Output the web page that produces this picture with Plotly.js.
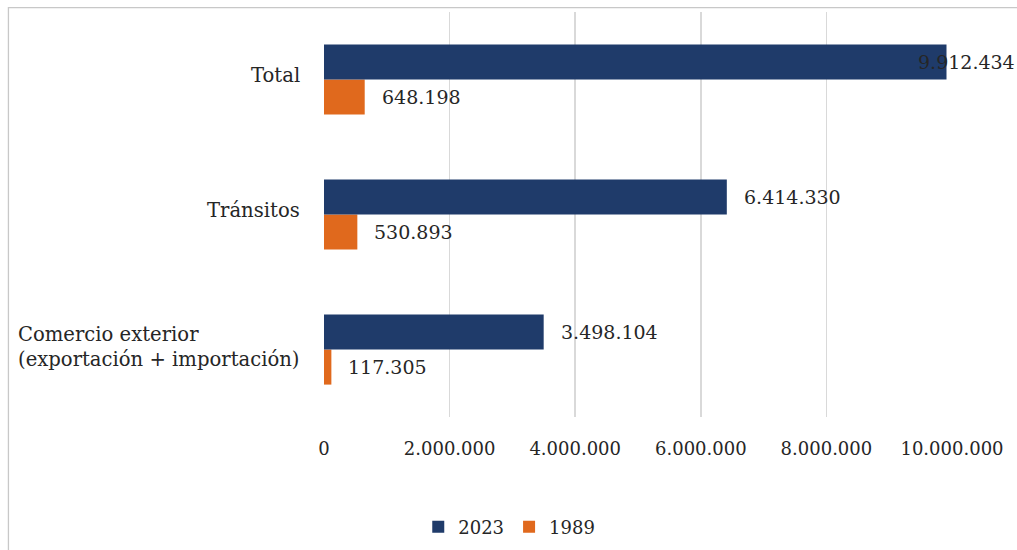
<!DOCTYPE html>
<html>
<head>
<meta charset="utf-8">
<script src="https://cdn.plot.ly/plotly-3.0.1.min.js"></script>
<style>html,body{margin:0;padding:0;background:#fff;}#chart{width:1017px;height:550px;}</style>
</head>
<body>
<div id="chart"></div>
<script>
// Categories listed bottom-to-top
const categories = ["Comercio exterior", "Tránsitos", "Total"];
const categoryLabels = ["Comercio exterior<br>(exportación + importación)", "Tránsitos", "Total"];
const values2023 = [3498104, 6414330, 9912434];
const values1989 = [117305, 530893, 648198];
const labels2023 = ["3.498.104", "6.414.330", "9.912.434"];
const labels1989 = ["117.305", "530.893", "648.198"];
const tickVals = [0, 2000000, 4000000, 6000000, 8000000, 10000000];
const tickText = ["0", "2.000.000", "4.000.000", "6.000.000", "8.000.000", "10.000.000"];

const FONT = "DejaVu Serif, serif";
const TXT = "#262626";
const NAVY = "#1F3B6A";
const ORANGE = "#E0691D";

const traces = [
  {type: "bar", orientation: "h", name: "1989", y: categories, x: values1989,
   marker: {color: ORANGE}, hoverinfo: "skip"},
  {type: "bar", orientation: "h", name: "2023", y: categories, x: values2023,
   marker: {color: NAVY}, hoverinfo: "skip"}
];

const annotations = [];
categories.forEach((c, i) => {
  annotations.push({x: values2023[i], y: c, xref: "x", yref: "y", text: labels2023[i],
    showarrow: false, xanchor: "left", xshift: (i === 2 ? -31 : 15), yshift: 17.5,
    font: {family: FONT, size: 19, color: TXT}});
  annotations.push({x: values1989[i], y: c, xref: "x", yref: "y", text: labels1989[i],
    showarrow: false, xanchor: "left", xshift: 15, yshift: -17.5,
    font: {family: FONT, size: 19, color: TXT}});
  annotations.push({x: 0, y: c, xref: "paper", yref: "y", text: categoryLabels[i],
    showarrow: false, xanchor: "right", align: "left", xshift: -22,
    yshift: (i === 0 ? 3 : 4),
    font: {family: FONT, size: 19.6, color: TXT}});
});

const layout = {
  width: 1017, height: 550,
  margin: {l: 324, r: 65, t: 12, b: 133, autoexpand: false},
  paper_bgcolor: "#fff", plot_bgcolor: "#fff",
  barmode: "group", bargap: 0.48, bargroupgap: 0,
  showlegend: true,
  legend: {orientation: "h", traceorder: "reversed", x: 0.295, xanchor: "center",
    y: -0.272, yanchor: "middle", font: {family: FONT, size: 18, color: TXT},
    itemwidth: 30},
  xaxis: {range: [0, 10000000], tickvals: tickVals, ticktext: tickText,
    showgrid: true, gridcolor: "#D9D9D9", gridwidth: 1.5, zeroline: false,
    showline: false, ticks: "", ticklabelstandoff: 19, automargin: false,
    tickfont: {family: FONT, size: 18, color: TXT}, fixedrange: true},
  yaxis: {type: "category", categoryorder: "array", categoryarray: categories,
    showticklabels: false, showgrid: false, zeroline: false, showline: false,
    ticks: "", fixedrange: true, automargin: false},
  annotations: annotations,
  shapes: [{type: "rect", xref: "paper", yref: "paper",
    x0: -0.5025, x1: 1.3, y0: -0.6, y1: 1.011,
    line: {color: "#C8C8C8", width: 1.3}, fillcolor: "rgba(0,0,0,0)", layer: "below"}]
};

Plotly.newPlot("chart", traces, layout, {displayModeBar: false, staticPlot: true});
</script>
</body>
</html>
